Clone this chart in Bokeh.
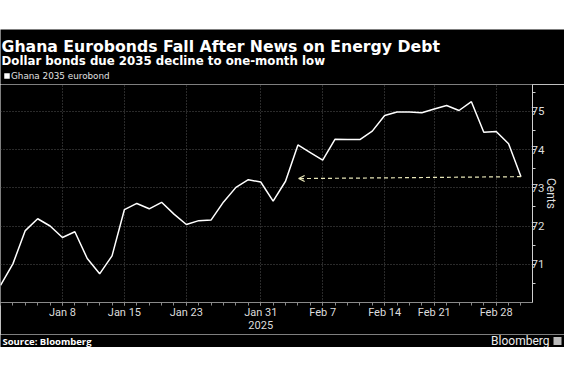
from bokeh.plotting import figure
from bokeh.models import Range1d, FixedTicker, Arrow, OpenHead, Spacer, ColumnDataSource
from bokeh.layouts import column
from bokeh.embed import file_html
from bokeh.resources import INLINE
from bokeh.core.properties import value

# Trading days (Dec 31, 2024 - Mar 4, 2025)
dates = ["Dec 31", "Jan 2", "Jan 3", "Jan 6", "Jan 7", "Jan 8", "Jan 9", "Jan 10",
         "Jan 13", "Jan 14", "Jan 15", "Jan 16", "Jan 17", "Jan 21", "Jan 22", "Jan 23",
         "Jan 24", "Jan 27", "Jan 28", "Jan 29", "Jan 30", "Jan 31", "Feb 3", "Feb 4",
         "Feb 5", "Feb 6", "Feb 7", "Feb 10", "Feb 11", "Feb 12", "Feb 13", "Feb 14",
         "Feb 18", "Feb 19", "Feb 20", "Feb 21", "Feb 24", "Feb 25", "Feb 26", "Feb 27",
         "Feb 28", "Mar 3", "Mar 4"]
prices = [70.45, 71.01, 71.88, 72.19, 72.00, 71.70, 71.85, 71.15,
          70.75, 71.22, 72.43, 72.59, 72.45, 72.62, 72.31, 72.04,
          72.14, 72.16, 72.63, 73.01, 73.21, 73.15, 72.65, 73.17,
          74.12, 73.92, 73.72, 74.27, 74.26, 74.26, 74.48, 74.89,
          74.98, 74.98, 74.96, 75.06, 75.15, 75.02, 75.25, 74.45,
          74.47, 74.15, 73.29]
tick_dates = ["Jan 8", "Jan 15", "Jan 23", "Jan 31", "Feb 7", "Feb 14", "Feb 21", "Feb 28"]
tick_labels = ["Jan 8", "Jan 15", "Jan 23", "Jan 31\n2025", "Feb 7", "Feb 14", "Feb 21", "Feb 28"]
y_ticks = [71, 72, 73, 74, 75]
y_minor = [70.5, 71.5, 72.5, 73.5, 74.5, 75.5]
arrow_target_date = "Feb 5"
arrow_target_value = 73.24

title = "Ghana Eurobonds Fall After News on Energy Debt"
subtitle = "Dollar bonds due 2035 decline to one-month low"
legend_text = "Ghana 2035 eurobond"
source_text = "Source: Bloomberg"
brand_text = "Bloomberg"

W = 564
HEADER_H, MAIN_H, FOOTER_H = 55, 250, 13
BG = "black"


def panel(h):
    f = figure(width=W, height=h, x_range=Range1d(0, W), y_range=Range1d(h, 0),
               output_backend="svg", toolbar_location=None,
               x_axis_location=None, y_axis_location=None, frame_align=False,
               min_border=0, background_fill_color=BG, border_fill_color=BG,
               outline_line_color=None)
    f.grid.visible = False
    return f


# ---------- header ----------
hdr = panel(HEADER_H)
hdr.text(x=[1], y=[17.3], text=[title], text_font=value("DejaVu Sans"), text_font_style="bold",
         text_font_size="15.7px", text_color="white", text_baseline="alphabetic")
hdr.text(x=[1], y=[31.7], text=[subtitle], text_font=value("DejaVu Sans"), text_font_style="bold",
         text_font_size="11.8px", text_color="white", text_baseline="alphabetic")
hdr.scatter(x=[6.5], y=[46.5], marker="square", size=5.5, fill_color="white", line_color=None)
hdr.text(x=[10.5], y=[46.8], text=[legend_text], text_font=value("DejaVu Sans"),
         text_font_size="8.8px", text_color="#e0e0e0", text_baseline="middle")

# ---------- main chart ----------
idx = list(range(len(dates)))
src = ColumnDataSource(dict(x=idx, y=prices))

p = figure(width=W, height=MAIN_H, x_range=Range1d(0, 42.93), y_range=Range1d(70, 75.7),
           output_backend="svg", toolbar_location=None, y_axis_location="right", frame_align=False,
           min_border_left=0, min_border_right=32, min_border_top=0, min_border_bottom=25,
           background_fill_color=BG, border_fill_color=BG, outline_line_color=None)

for g in (p.xgrid, p.ygrid):
    g.grid_line_color = "#555555"
    g.grid_line_dash = "1 2"
    g.grid_line_width = 1

tick_pos = [dates.index(d) for d in tick_dates]
xa = p.xaxis[0]
xa.ticker = FixedTicker(ticks=tick_pos, minor_ticks=idx)
xa.major_label_overrides = {t: l for t, l in zip(tick_pos, tick_labels)}
xa.axis_line_color = "#8a8a8a"
xa.major_tick_line_color = "#8a8a8a"
xa.minor_tick_line_color = "#8a8a8a"
xa.major_tick_in = 0
xa.major_tick_out = 3
xa.minor_tick_in = 0
xa.minor_tick_out = 3
xa.major_label_standoff = 0
xa.major_label_text_color = "#dddddd"
xa.major_label_text_font = "Roboto"
xa.major_label_text_font_size = "11px"
xa.major_label_text_line_height = 1.0

ya = p.yaxis[0]
ya.ticker = FixedTicker(ticks=y_ticks, minor_ticks=y_minor)
ya.axis_line_color = "#d0d0d0"
ya.major_tick_line_color = "#d0d0d0"
ya.minor_tick_line_color = "#d0d0d0"
ya.major_tick_in = 0
ya.major_tick_out = 3
ya.minor_tick_in = 0
ya.minor_tick_out = 3
ya.major_label_standoff = -4
ya.major_label_text_color = "#dddddd"
ya.major_label_text_font = "Roboto"
ya.major_label_text_font_size = "11.5px"
ya.axis_label = "Cents"
ya.axis_label_text_color = "#dddddd"
ya.axis_label_text_font = "Roboto"
ya.axis_label_text_font_style = "normal"
ya.axis_label_text_font_size = "12px"
ya.axis_label_standoff = -3

p.line("x", "y", source=src, line_color="white", line_width=1.5)

p.add_layout(Arrow(end=OpenHead(size=6, line_color="#e8e6b8", line_width=1.2),
                   x_start=idx[-1], y_start=prices[-1],
                   x_end=dates.index(arrow_target_date) + 0.06, y_end=arrow_target_value,
                   line_color="#e8e6b8", line_width=1.2, line_dash="4 3"))

# ---------- footer ----------
ftr = panel(FOOTER_H)
ftr.text(x=[2], y=[6.5], text=[source_text], text_font=value("Open Sans"), text_font_style="bold",
         text_font_size="9.5px", text_color="white", text_baseline="middle")
ftr.text(x=[549], y=[6.5], text=[brand_text], text_font=value("Roboto"),
         text_font_size="12px", text_color="#eeeeee", text_align="right", text_baseline="middle")
ftr.scatter(x=[557], y=[6.5], marker="square", size=8, fill_color="#bbbbbb", line_color=None)

layout = column(Spacer(height=29, width=W), hdr, p, ftr)
open("out.html", "w").write(file_html(layout, INLINE))
